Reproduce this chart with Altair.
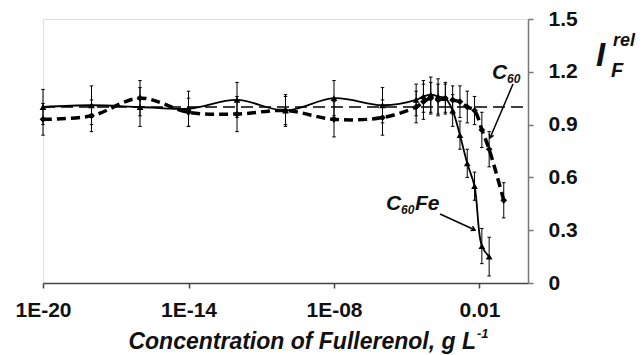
import altair as alt
import pandas as pd

# ---- data ----
conc = [1e-20, 1e-18, 1e-16, 1e-14, 1e-12, 1e-10, 1e-8, 1e-6,
        2.44e-5, 4.88e-5, 9.77e-5, 1.95e-4, 3.91e-4, 7.81e-4,
        1.5625e-3, 3.125e-3, 6.25e-3, 1.25e-2, 2.5e-2]

c60fe_val = [1.00, 1.01, 1.00, 0.99, 1.04, 0.98, 1.05, 1.01,
             1.04, 1.06, 1.07, 1.06, 1.05, 0.98, 0.84, 0.68, 0.55, 0.21, 0.15]
c60fe_err = [0.10, 0.11, 0.11, 0.10, 0.10, 0.09, 0.10, 0.10,
             0.09, 0.09, 0.10, 0.10, 0.09, 0.09, 0.08, 0.08, 0.08, 0.10, 0.11]

c60_conc = conc + [1e-1]
c60_val = [0.93, 0.95, 1.05, 0.97, 0.96, 0.98, 0.93, 0.94,
           1.00, 1.03, 1.05, 1.04, 1.05, 1.04, 1.03, 1.00, 0.98, 0.87, 0.76, 0.47]
c60_err = [0.09, 0.09, 0.10, 0.08, 0.10, 0.08, 0.10, 0.10,
           0.09, 0.10, 0.09, 0.09, 0.08, 0.08, 0.09, 0.09, 0.08, 0.10, 0.10, 0.10]

x_tick_values = [1e-20, 1e-14, 1e-8, 1e-2]
x_tick_labels = ["1E-20", "1E-14", "1E-08", "0.01"]
y_tick_values = [0, 0.3, 0.6, 0.9, 1.2, 1.5]
ref_level = [1.0]

FONT = "Liberation Sans"

fe = pd.DataFrame({"c": conc, "v": c60fe_val, "e": c60fe_err})
fe["lo"] = fe["v"] - fe["e"]
fe["hi"] = fe["v"] + fe["e"]
c6 = pd.DataFrame({"c": c60_conc, "v": c60_val, "e": c60_err})
c6["lo"] = c6["v"] - c6["e"]
c6["hi"] = c6["v"] + c6["e"]

caps = pd.concat([
    pd.DataFrame({"c": fe["c"], "y": fe["lo"]}),
    pd.DataFrame({"c": fe["c"], "y": fe["hi"]}),
    pd.DataFrame({"c": c6["c"], "y": c6["lo"]}),
    pd.DataFrame({"c": c6["c"], "y": c6["hi"]}),
])
bars = pd.concat([fe[["c", "lo", "hi"]], c6[["c", "lo", "hi"]]])

label_expr = " : ".join(
    f"datum.value < {v*3:g} ? '{l}'" for v, l in zip(x_tick_values[:-1], x_tick_labels[:-1])
) + f" : '{x_tick_labels[-1]}'"

xscale = alt.Scale(type="log", domain=[1e-20, 1], nice=False)
yscale = alt.Scale(domain=[0, 1.5], nice=False)

xenc = alt.X("c:Q", scale=xscale, title=None,
             axis=alt.Axis(values=x_tick_values, labelExpr=label_expr, grid=False,
                           domainColor="#444", domainWidth=1.5, tickColor="#444",
                           tickWidth=1.5, tickSize=5, labelFont=FONT, labelFontSize=21,
                           labelFontWeight="bold", labelColor="#111", labelPadding=11,
                           labelFlush=False))

ref = alt.Chart(pd.DataFrame({"y": ref_level})).mark_rule(
    color="black", strokeWidth=1.5, strokeDash=[12, 6]
).encode(y=alt.Y("y:Q", scale=yscale), x=alt.value(0), x2=alt.value(485))

err_rules = alt.Chart(bars).mark_rule(color="black", strokeWidth=1).encode(
    x=xenc, y=alt.Y("lo:Q", scale=yscale), y2="hi:Q")

err_caps = alt.Chart(caps).mark_point(
    shape="M-0.5,0H0.5", size=49, filled=False, color="black", strokeWidth=1, opacity=1
).encode(x=alt.X("c:Q", scale=xscale), y=alt.Y("y:Q", scale=yscale))

line_c60 = alt.Chart(c6).mark_line(
    color="black", strokeWidth=3.5, strokeDash=[9, 5], interpolate="catmull-rom"
).encode(x=alt.X("c:Q", scale=xscale), y=alt.Y("v:Q", scale=yscale))

pts_c60 = alt.Chart(c6).mark_point(
    shape="diamond", filled=True, size=45, color="black", opacity=1
).encode(x=alt.X("c:Q", scale=xscale), y=alt.Y("v:Q", scale=yscale))

line_fe = alt.Chart(fe).mark_line(
    color="black", strokeWidth=1.8, interpolate="catmull-rom"
).encode(x=alt.X("c:Q", scale=xscale), y=alt.Y("v:Q", scale=yscale,
         axis=alt.Axis(orient="right", values=y_tick_values, title=None, grid=False,
                       labelExpr="datum.value == 0 ? '0' : format(datum.value, '.1f')",
                       domainColor="#777", domainWidth=1.5, tickColor="#777",
                       tickWidth=1.5, tickSize=5, labelFont=FONT, labelFontSize=21,
                       labelFontWeight="bold", labelColor="#111", labelPadding=15,
                       labelFlush=False)))

pts_fe = alt.Chart(fe).mark_point(
    shape="triangle-up", filled=True, size=45, color="black", opacity=1
).encode(x=alt.X("c:Q", scale=xscale), y=alt.Y("v:Q", scale=yscale))


def txt(s, x, y, size, italic=True, align="left"):
    return alt.Chart(pd.DataFrame({"t": [s]})).mark_text(
        font=FONT, fontSize=size, fontWeight="bold",
        fontStyle="italic" if italic else "normal", align=align,
        baseline="alphabetic", color="#111"
    ).encode(text="t:N", x=alt.value(x), y=alt.value(y))


def arrow(x1, y1, x2, y2, ang):
    line = alt.Chart(pd.DataFrame({"a": [0]})).mark_rule(
        color="black", strokeWidth=1.5
    ).encode(x=alt.value(x1), y=alt.value(y1), x2=alt.value(x2), y2=alt.value(y2))
    head = alt.Chart(pd.DataFrame({"a": [0]})).mark_point(
        shape="M-0.6,1L0,0L0.6,1", size=60, filled=False, color="black",
        strokeWidth=1.5, opacity=1, angle=ang
    ).encode(x=alt.value(x2), y=alt.value(y2))
    return line + head


texts = [
    # y-axis title  I_F^rel
    txt("I", 553, 47, 33),
    txt("rel", 570, 27, 18),
    txt("F", 568, 58, 20),
    # x-axis title
    txt("Concentration of Fullerenol, g L", 433, 330, 23, align="right"),
    txt("-1", 434, 319, 13),
    # C60 label
    txt("C", 449, 60, 21),
    txt("60", 464, 64, 12),
    # C60Fe label
    txt("C", 343, 191, 21),
    txt("60", 358, 195, 12),
    txt("Fe", 372, 191, 21),
]

layers = [ref, err_rules, err_caps, line_c60, line_fe, pts_c60, pts_fe,
          arrow(470, 65, 447, 119, 202), arrow(397, 195, 432, 211, 116)] + texts

chart = alt.layer(*layers).properties(
    width=485, height=264,
    padding={"left": 35, "top": 11, "right": 108, "bottom": 72},
    autosize=alt.AutoSizeParams(type="none"),
).configure_view(stroke=None).configure(background="white")

chart.save("out.html", embed_options={"renderer": "svg", "actions": False})
